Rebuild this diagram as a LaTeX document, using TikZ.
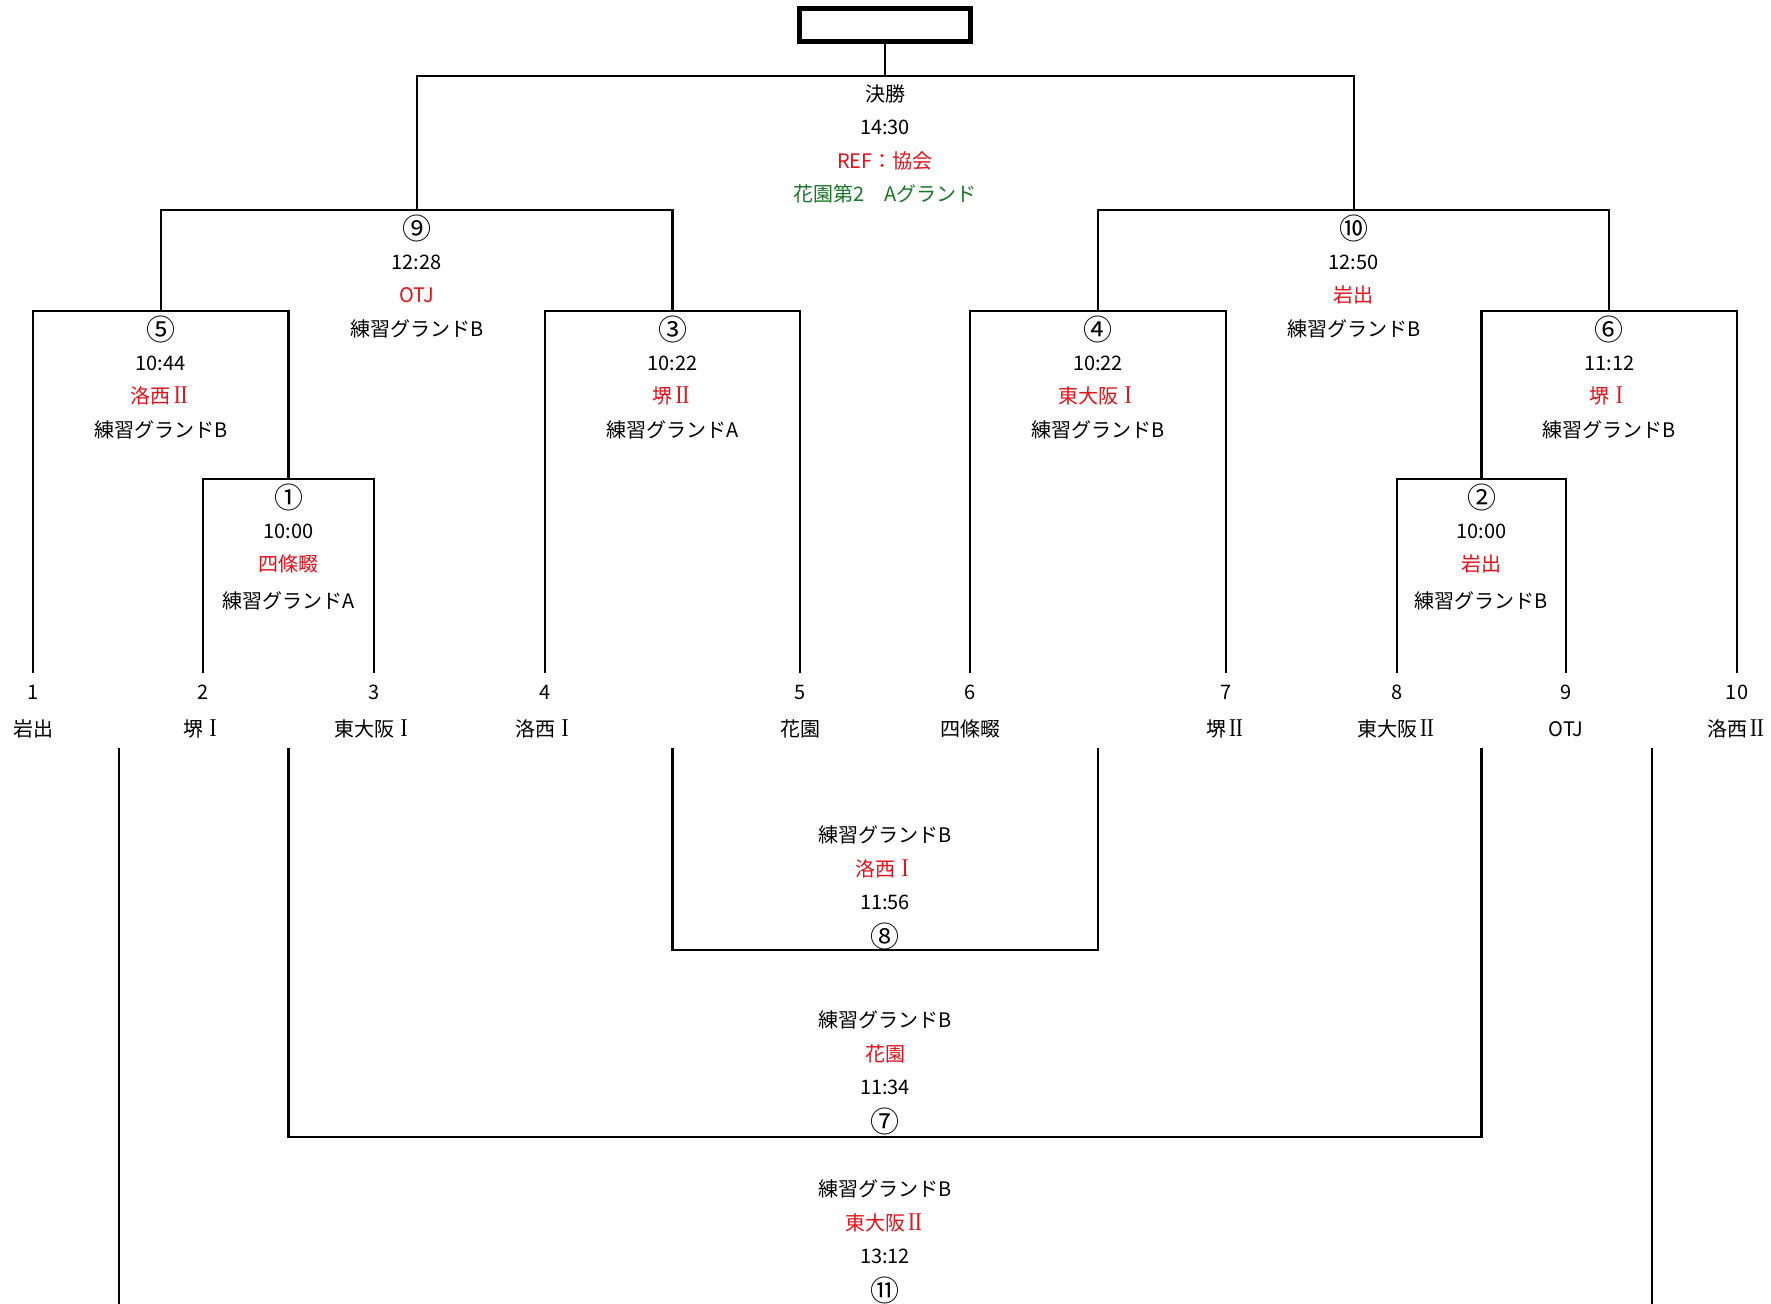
\documentclass[tikz,border=0pt]{standalone}
\usepackage{fontspec}
\newfontfamily\jp{Noto Sans CJK JP}
\newfontfamily\rmn{Liberation Serif}
\newcommand\cn[1]{\raisebox{-3.6pt}{\scalebox{1.45}{#1}}}
\newcommand\rI{\makebox[1em]{\scalebox{1.05}[1.28]{\rmn I}}}
\newcommand\rII{\makebox[1em]{\scalebox{1.05}[1.28]{\rmn I\kern-0.02em I}}}
\definecolor{refred}{RGB}{232,16,24}
\definecolor{vgreen}{RGB}{24,118,36}
\newcommand\matchinfo[8]{%
  \node[txt] (#1a) at (#2,#3) {#4};
  \node[txt] (#1b) at (#2,#3+33.5) {#5};
  \node[txt] (#1c) at (#2,#3+67) {#6};
  \node[txt] (#1d) at (#2,#3+#8) {#7};
}
\begin{document}
\begin{tikzpicture}[x=1pt,y=-1pt,
  txt/.style={font=\jp\fontsize{20}{24}\selectfont, anchor=base, inner sep=0pt},
  bline/.style={line width=2.2pt, draw=black}]
\useasboundingbox (0,0) rectangle (1771,1303);
\fill[white] (0,0) rectangle (1771,1303);

% top box
\node[draw, line width=5pt, minimum width=170.5pt, minimum height=33pt, inner sep=0pt] (box) at (885,25) {};

% team line ends
\coordinate (t1) at (33,673);
\coordinate (t2) at (203,673);
\coordinate (t3) at (374,673);
\coordinate (t4) at (545,673);
\coordinate (t5) at (800,673);
\coordinate (t6) at (970,673);
\coordinate (t7) at (1226,673);
\coordinate (t8) at (1397,673);
\coordinate (t9) at (1566,673);
\coordinate (t10) at (1737,673);

% junctions
\coordinate (m1) at (288.5,479);
\coordinate (m2) at (1481.5,479);
\coordinate (q5) at (160.75,311);
\coordinate (q3) at (672.5,311);
\coordinate (q4) at (1098,311);
\coordinate (q6) at (1609.25,311);
\coordinate (s9) at (416.6,210);
\coordinate (s10) at (1353.6,210);
\coordinate (fin) at (885,76);

% main bracket
\draw[bline] (t2) |- (m1) -| (t3);
\draw[bline] (t1) |- (q5) -| (m1);
\draw[bline] (t4) |- (q3) -| (t5);
\draw[bline] (q5) |- (s9) -| (q3);
\draw[bline] (t6) |- (q4) -| (t7);
\draw[bline] (t8) |- (m2) -| (t9);
\draw[bline] (m2) |- (q6) -| (t10);
\draw[bline] (q4) |- (s10) -| (q6);
\draw[bline] (s9) |- (fin) -| (s10);
\draw[bline] (fin) -- (box.south);

% lower bracket
\coordinate (l8a) at (672.5,748);
\coordinate (l8b) at (1098,748);
\coordinate (c8) at (885,950);
\coordinate (l7a) at (288.5,748);
\coordinate (l7b) at (1481.5,748);
\coordinate (c7) at (885,1137);
\coordinate (l11a) at (119,748);
\coordinate (l11b) at (1652,748);
\coordinate (e11a) at (119,1304);
\coordinate (e11b) at (1652,1304);
\draw[bline] (l8a) |- (c8) -| (l8b);
\draw[bline] (l7a) |- (c7) -| (l7b);
\draw[bline] (l11a) -- (e11a);
\draw[bline] (l11b) -- (e11b);

% team labels
\node[txt] (n1) at (33,699.5) {1};
\node[txt] (n2) at (203,699.5) {2};
\node[txt] (n3) at (374,699.5) {3};
\node[txt] (n4) at (545,699.5) {4};
\node[txt] (n5) at (800,699.5) {5};
\node[txt] (n6) at (970,699.5) {6};
\node[txt] (n7) at (1226,699.5) {7};
\node[txt] (n8) at (1397,699.5) {8};
\node[txt] (n9) at (1566,699.5) {9};
\node[txt] (n10) at (1737,699.5) {10};
\node[txt] (w1) at (33,736.5) {岩出};
\node[txt] (w2) at (203,736.5) {堺\rI};
\node[txt] (w3) at (374,736.5) {東大阪\rI};
\node[txt] (w4) at (545,736.5) {洛西\rI};
\node[txt] (w5) at (800,736.5) {花園};
\node[txt] (w6) at (970,736.5) {四條畷};
\node[txt] (w7) at (1226,736.5) {堺\rII};
\node[txt] (w8) at (1397,736.5) {東大阪\rII};
\node[txt] (w9) at (1566,736.5) {OTJ};
\node[txt] (w10) at (1737,736.5) {洛西\rII};

% match information
\matchinfo{F}{885}{101.5}{決勝}{14:30}{\textcolor{refred}{REF：協会}}{\textcolor{vgreen}{花園第2　Aグランド}}{100}
\matchinfo{S9}{416.6}{235.5}{\cn{⑨}}{12:28}{\textcolor{refred}{OTJ}}{練習グランドB}{101}
\matchinfo{S10}{1353.6}{235.5}{\cn{⑩}}{12:50}{\textcolor{refred}{岩出}}{練習グランドB}{101}
\matchinfo{Q5}{160.75}{336.5}{\cn{⑤}}{10:44}{\textcolor{refred}{洛西\rII}}{練習グランドB}{101}
\matchinfo{Q3}{672.5}{336.5}{\cn{③}}{10:22}{\textcolor{refred}{堺\rII}}{練習グランドA}{101}
\matchinfo{Q4}{1098}{336.5}{\cn{④}}{10:22}{\textcolor{refred}{東大阪\rI}}{練習グランドB}{101}
\matchinfo{Q6}{1609.25}{336.5}{\cn{⑥}}{11:12}{\textcolor{refred}{堺\rI}}{練習グランドB}{101}
\matchinfo{M1}{288.5}{504.5}{\cn{①}}{10:00}{\textcolor{refred}{四條畷}}{練習グランドA}{104}
\matchinfo{M2}{1481.5}{504.5}{\cn{②}}{10:00}{\textcolor{refred}{岩出}}{練習グランドB}{104}
\matchinfo{L8}{885}{842.5}{練習グランドB}{\textcolor{refred}{洛西\rI}}{11:56}{\cn{⑧}}{101}
\matchinfo{L7}{885}{1027.5}{練習グランドB}{\textcolor{refred}{花園}}{11:34}{\cn{⑦}}{101}
\matchinfo{L11}{885}{1196.5}{練習グランドB}{\textcolor{refred}{東大阪\rII}}{13:12}{\cn{⑪}}{101}
\end{tikzpicture}
\end{document}
